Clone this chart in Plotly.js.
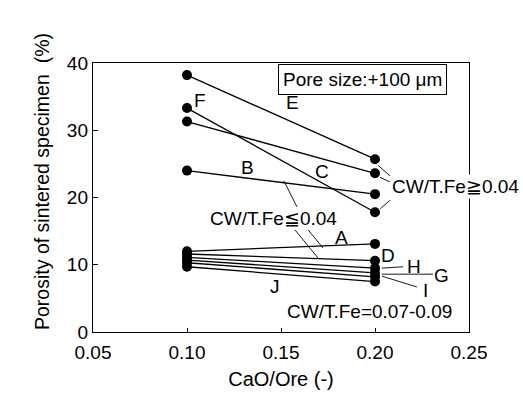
<!DOCTYPE html>
<html>
<head>
<meta charset="utf-8">
<script src="https://cdn.plot.ly/plotly-3.0.1.min.js"></script>
<style>html,body{margin:0;padding:0;background:#fff;}#chart{width:523px;height:396px;}</style>
</head>
<body>
<div id="chart"></div>
<script>
// Data
const caoOre = [0.10, 0.20];
const seriesNames = ["E", "F", "C", "B", "A", "D", "H", "G", "I", "J"];
const porosityAt010 = [38.2, 33.3, 31.3, 24.0, 12.0, 11.6, 11.1, 10.7, 10.3, 9.7];
const porosityAt020 = [25.7, 17.8, 23.6, 20.5, 13.1, 10.6, 9.5, 8.8, 8.2, 7.5];
const xTicks = [0.05, 0.10, 0.15, 0.20, 0.25];
const yTicks = [0, 10, 20, 30, 40];

const FONT = "Liberation Sans, Arial, Helvetica, sans-serif";

const traces = seriesNames.map((n, i) => ({
  type: "scatter",
  mode: "lines+markers",
  name: n,
  x: caoOre,
  y: [porosityAt010[i], porosityAt020[i]],
  line: {color: "#000", width: 1.3},
  marker: {color: "#000", size: 10},
  cliponaxis: false,
  showlegend: false,
  hoverinfo: "skip"
}));

function lab(text, x, y, extra) {
  return Object.assign({text: text, x: x, y: y, xref: "x", yref: "y", showarrow: false,
    font: {family: FONT, size: 19, color: "#000"}}, extra || {});
}

const annotations = [
  lab("E", 0.156, 34.2),
  lab("F", 0.107, 34.4),
  lab("B", 0.132, 24.5),
  lab("C", 0.172, 23.8),
  lab("A", 0.182, 14.1),
  lab("D", 0.207, 11.4),
  lab("H", 0.221, 9.7),
  lab("G", 0.2355, 8.4),
  lab("I", 0.2266, 6.2),
  lab("J", 0.1468, 6.8),
  lab("CW/T.Fe≦0.04", 0.146, 16.9),
  lab("CW/T.Fe≧0.04", 0.2082, 21.6, {xanchor: "left", bgcolor: "#fff"}),
  lab("CW/T.Fe=0.07-0.09", 0.197, 3.0),
  lab("Pore size:+100 \u03bcm", 0.1935, 37.5, {bordercolor: "#000", borderwidth: 1, borderpad: 4, bgcolor: "#fff"}),
  {text: "Porosity of sintered specimen  (%)", xref: "paper", yref: "paper", x: -0.17, y: 0.558,
   textangle: -90, showarrow: false, font: {family: FONT, size: 19.5, color: "#000"}}
];

function seg(x0, y0, x1, y1) {
  return {type: "line", xref: "x", yref: "y", x0: x0, y0: y0, x1: x1, y1: y1, line: {color: "#000", width: 0.9}};
}
const shapes = [
  seg(0.2016, 24.8, 0.2080, 23.2),
  seg(0.2027, 23.0, 0.2080, 22.3),
  seg(0.2027, 18.3, 0.2080, 19.6),
  seg(0.1574, 15.2, 0.1697, 11.0),
  seg(0.1644, 15.2, 0.1723, 12.5),
  seg(0.1585, 18.6, 0.1515, 22.5),
  seg(0.2037, 9.5, 0.2149, 9.7),
  seg(0.2037, 8.6, 0.2309, 8.6),
  seg(0.2037, 8.3, 0.2223, 6.7)
];

const layout = {
  width: 523, height: 396,
  margin: {l: 93, r: 54, t: 63, b: 64},
  paper_bgcolor: "#fff", plot_bgcolor: "#fff",
  font: {family: FONT, size: 19, color: "#000"},
  xaxis: {
    range: [0.05, 0.25], tickvals: xTicks, tickformat: ".2f",
    ticks: "inside", ticklen: 4, tickcolor: "#000",
    showline: true, linecolor: "#000", linewidth: 1.2, mirror: true,
    showgrid: false, zeroline: false, ticklabelstandoff: 3,
    tickfont: {family: FONT, size: 19},
    title: {text: "CaO/Ore (-)", font: {family: FONT, size: 20}, standoff: 10}
  },
  yaxis: {
    range: [0, 40], tickvals: yTicks,
    ticks: "inside", ticklen: 5, tickcolor: "#000",
    showline: true, linecolor: "#000", linewidth: 1.2, mirror: true,
    showgrid: false, zeroline: false,
    tickfont: {family: FONT, size: 19}
  },
  annotations: annotations,
  shapes: shapes
};

Plotly.newPlot("chart", traces, layout, {staticPlot: true, displayModeBar: false});
</script>
</body>
</html>
